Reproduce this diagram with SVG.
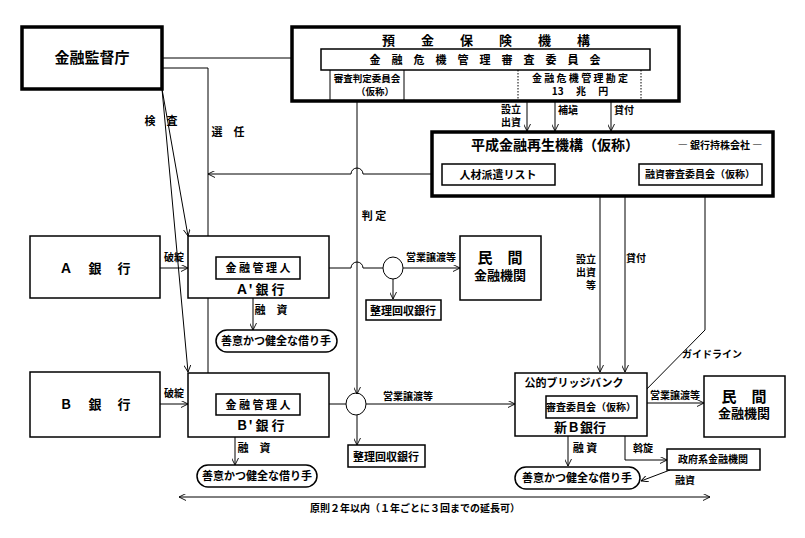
<svg xmlns="http://www.w3.org/2000/svg" width="805" height="538" viewBox="0 0 805 538">
<defs>
<marker id="a" viewBox="0 0 10 10" refX="10" refY="5" markerWidth="7" markerHeight="7" orient="auto-start-reverse" markerUnits="userSpaceOnUse"><path d="M0,0 L10,5 L0,10" fill="none" stroke="#000" stroke-width="1.3"/></marker>
</defs>
<style>
text{font-family:"Noto Sans CJK JP","Liberation Sans",sans-serif;font-weight:bold;fill:#000;text-anchor:middle}
.b{fill:#fff;stroke:#000;stroke-width:1.5}
.t{fill:#fff;stroke:#000;stroke-width:3.5}
.l{fill:none;stroke:#000;stroke-width:1}
.s{font-size:11px}.x{font-size:10px}.m{font-size:13px}.g{font-size:15px}
</style>
<rect width="805" height="538" fill="#fff"/>
<g id="connectors" class="l">
<path d="M162,58 H321"/>
<path d="M162,68 H208 V403 H216" marker-end="url(#a)"/>
<path d="M208,267 H216" marker-end="url(#a)"/>
<path d="M162,89 L188,236" marker-end="url(#a)"/>
<path d="M162,89 L188,372" marker-end="url(#a)"/>
<path d="M442,174 H363 A6,6 0 0 0 351,174 H208" marker-end="url(#a)"/>
<path d="M357,101 V394" marker-end="url(#a)"/>
<path d="M527,93 V131" marker-end="url(#a)"/>
<path d="M555,93 V131" marker-end="url(#a)"/>
<path d="M611,93 V131" marker-end="url(#a)"/>
<path d="M160,268 H188" marker-end="url(#a)"/>
<path d="M329,268 H351 A6,6 0 0 1 363,268 H383"/>
<path d="M403,268 H460" marker-end="url(#a)"/>
<path d="M393,279 V299" marker-end="url(#a)"/>
<path d="M253,298 V330" marker-end="url(#a)"/>
<path d="M160,404 H188" marker-end="url(#a)"/>
<path d="M329,404 H346"/>
<path d="M366,404 H515" marker-end="url(#a)"/>
<path d="M357,415 V445" marker-end="url(#a)"/>
<path d="M235,437 V465" marker-end="url(#a)"/>
<path d="M600,196 V372" marker-end="url(#a)"/>
<path d="M625,196 V372" marker-end="url(#a)"/>
<path d="M705,185 V330 L637,399" marker-end="url(#a)"/>
<path d="M647,403 H704" marker-end="url(#a)"/>
<path d="M568,436 V466" marker-end="url(#a)"/>
<path d="M625,436 V460 H667" marker-end="url(#a)"/>
<path d="M670,470 L641,481" marker-end="url(#a)"/>
<path d="M179,497 H710" marker-start="url(#a)" marker-end="url(#a)"/>
</g>
<g id="fsa"><rect class="t" x="22" y="27" width="140" height="62"/><text class="g" x="92" y="63">金融監督庁</text></g>
<g id="dic"><rect class="t" x="292" y="27" width="387" height="74"/>
<text class="m" x="486" y="45" xml:space="preserve">預　　金　　保　　険　　機　　構</text>
<rect class="b" x="321" y="49" width="329" height="21" stroke-width="1.2"/>
<text class="s" x="485" y="64" xml:space="preserve">金　融　危　機　管　理　審　査　委　員　会</text>
<path class="l" d="M330,70 V101 M404,70 V101"/>
<text style="font-size:9.5px"><tspan x="367" y="82">審査判定委員会</tspan><tspan x="375" y="95">（仮称）</tspan></text>
<path d="M518,70 V101 M641,70 V101" fill="none" stroke="#000" stroke-dasharray="1.5,1.5"/>
<text class="x" xml:space="preserve"><tspan x="580" y="82">金 融 危 機 管 理 勘 定</tspan><tspan x="580" y="95">13　 兆　 円</tspan></text></g>
<g id="labels1">
<text class="x"><tspan x="511" y="113">設立</tspan><tspan x="511" y="126">出資</tspan></text>
<text class="x" x="568" y="114">補塡</text><text class="x" x="624" y="114">貸付</text>
<text class="s" x="161" y="125">検　査</text><text class="s" x="228" y="136">選　任</text>
<text class="s" x="374" y="220">判 定</text>
<text class="x" x="174" y="261">破綻</text><text class="x" x="174" y="397">破綻</text>
<text class="x" x="431" y="261">営業譲渡等</text><text class="x" x="408" y="400">営業譲渡等</text>
<text class="s" x="271" y="314">融　資</text><text class="s" x="254" y="452">融　資</text>
<text class="x"><tspan x="586" y="263">設立</tspan><tspan x="586" y="276">出資</tspan><tspan x="591" y="289">等</tspan></text>
<text class="x" x="636" y="262">貸付</text>
<text class="x" x="712" y="358">ガイドライン</text>
<text class="x" x="675" y="399">営業譲渡等</text>
<text class="s" x="585" y="452">融 資</text><text class="x" x="643" y="452">斡旋</text><text class="x" x="685" y="484">融資</text>
<text class="x" x="415" y="512">原則２年以内（１年ごとに３回までの延長可）</text>
</g>
<g id="saisei"><rect class="t" x="432" y="132" width="341" height="64"/>
<text x="555" y="150" style="font-size:14px">平成金融再生機構（仮称）</text>
<text class="x" x="720" y="149">― 銀行持株会社 ―</text>
<rect class="b" x="442" y="164" width="113" height="21"/><text class="s" x="498" y="179">人材派遣リスト</text>
<rect class="b" x="639" y="164" width="123" height="21"/><text class="x" x="700" y="178">融資審査委員会（仮称）</text></g>
<g id="bankA"><rect class="b" x="30" y="236" width="130" height="62"/><text class="m" x="95" y="273" xml:space="preserve">Ａ　 銀 　行</text></g>
<g id="bankA2"><rect class="b" x="188" y="236" width="141" height="62"/>
<rect class="b" x="216" y="257" width="84" height="22"/><text class="s" x="258" y="272" xml:space="preserve">金 融 管 理 人</text>
<text class="m" x="260" y="294" xml:space="preserve">Ａ' 銀 行</text></g>
<g id="circleA"><ellipse class="l" cx="393" cy="268" rx="10" ry="11"/></g>
<g id="seiriA"><rect class="b" x="366" y="300" width="75" height="20"/><text class="s" x="403" y="315">整理回収銀行</text></g>
<g id="minkanA"><rect class="b" x="460" y="236" width="81" height="64"/><text class="g" x="500" y="263" xml:space="preserve">民　間</text><text class="m" x="500" y="280">金融機関</text></g>
<g id="borrowerA"><rect class="b" x="216" y="330" width="121" height="22" rx="11"/><text class="s" x="276" y="345">善意かつ健全な借り手</text></g>
<g id="bankB"><rect class="b" x="30" y="372" width="130" height="65"/><text class="m" x="95" y="409" xml:space="preserve">Ｂ　 銀 　行</text></g>
<g id="bankB2"><rect class="b" x="188" y="373" width="141" height="64"/>
<rect class="b" x="216" y="394" width="84" height="21"/><text class="s" x="258" y="409" xml:space="preserve">金 融 管 理 人</text>
<text class="m" x="260" y="430" xml:space="preserve">Ｂ' 銀 行</text></g>
<g id="circleB"><ellipse class="l" cx="356" cy="404" rx="10" ry="11"/></g>
<g id="seiriB"><rect class="b" x="348" y="445" width="77" height="22"/><text class="s" x="386" y="461">整理回収銀行</text></g>
<g id="borrowerB"><rect class="b" x="197" y="465" width="120" height="22" rx="11"/><text class="s" x="257" y="480">善意かつ健全な借り手</text></g>
<g id="newB"><rect class="b" x="515" y="373" width="132" height="63"/>
<text class="s" x="574" y="387">公的ブリッジバンク</text>
<rect class="b" x="546" y="396" width="91" height="22"/><text class="x" x="591" y="411">審査委員会（仮称）</text>
<text class="m" x="580" y="432">新Ｂ銀行</text></g>
<g id="minkanB"><rect class="b" x="704" y="376" width="81" height="61"/><text class="g" x="744" y="402" xml:space="preserve">民　間</text><text class="m" x="744" y="418">金融機関</text></g>
<g id="govt"><rect class="b" x="667" y="449" width="93" height="21"/><text class="x" x="713" y="463">政府系金融機関</text></g>
<g id="borrowerC"><rect class="b" x="515" y="467" width="125" height="22" rx="11"/><text class="s" x="577" y="482">善意かつ健全な借り手</text></g>
</svg>
